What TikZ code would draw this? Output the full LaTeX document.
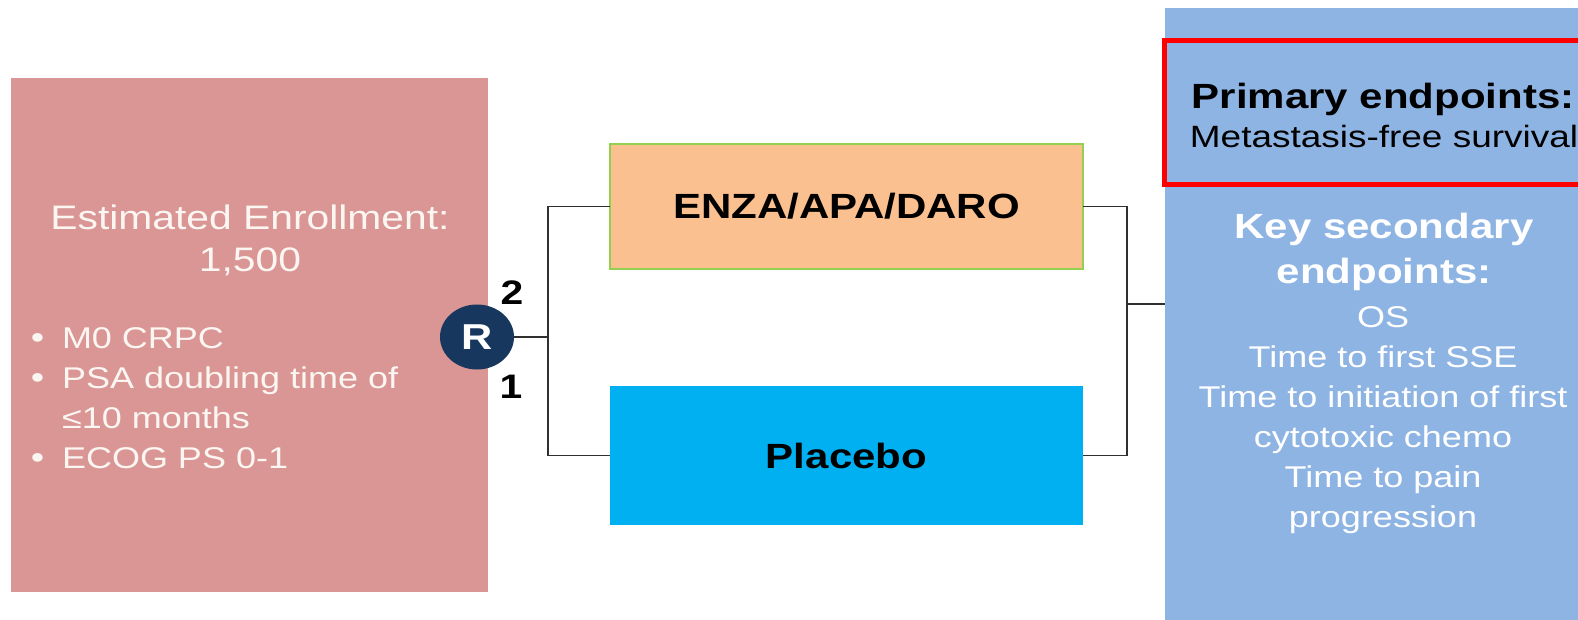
\documentclass[tikz,border=0pt]{standalone}
\usepackage{fontspec}
\setmainfont[FakeStretch=1.2]{Liberation Sans}
\usetikzlibrary{shapes.geometric}
\definecolor{pinkbox}{HTML}{D99694}
\definecolor{peach}{HTML}{FAC090}
\definecolor{cyanbox}{HTML}{00B0F0}
\definecolor{bluebox}{HTML}{8EB4E3}
\definecolor{navy}{HTML}{17375E}
\definecolor{lgreen}{HTML}{92D050}
\definecolor{linec}{HTML}{303030}
\definecolor{offwhite}{HTML}{FBF6F2}
\newcommand{\bulletmark}{\makebox[32pt][l]{\hspace*{1pt}\fontsize{32}{40}\selectfont•}}
\begin{document}
\begin{tikzpicture}[x=1pt,y=-1pt,
  panel/.style={anchor=north west,inner sep=0pt,outer sep=0pt,draw=none},
  conn/.style={draw=linec,line width=1.4pt},
  txt/.style={inner sep=0pt,outer sep=0pt,align=center},
  armtext/.style={font=\fontsize{35}{40}\selectfont\bfseries,text=black}]
\useasboundingbox (0,0) rectangle (1578,620);
\clip (0,0) rectangle (1578,620);
% panels
\node[panel,fill=pinkbox,minimum width=477pt,minimum height=514pt] (left) at (11,78) {};
\node[panel,fill=bluebox,minimum width=430pt,minimum height=620pt] (blue) at (1165,8) {};
\node[panel,draw=red,line width=5pt,minimum width=450pt,minimum height=144pt] (prim) at (1164.5,40.5) {};
\node[panel,fill=peach,draw=lgreen,line width=1.2pt,minimum width=473pt,minimum height=125pt,armtext] (enza) at (610,144) {ENZA/APA/DARO};
\node[panel,fill=cyanbox,minimum width=473pt,minimum height=139pt,armtext] (plac) at (610,386) {Placebo};
% randomisation
\node[ellipse,fill=navy,minimum width=74pt,minimum height=65pt,inner sep=0pt,text=white,font=\fontsize{36}{40}\selectfont\bfseries] (R) at (477,337) {R};
\node[txt,font=\fontsize{34}{40}\selectfont\bfseries] (two) at (512,293) {2};
\node[txt,font=\fontsize{34}{40}\selectfont\bfseries] (one) at (511,387) {1};
% connectors
\coordinate (split) at (548,337);
\coordinate (join) at (1127,304);
\draw[conn] (R.east) -- (split);
\draw[conn] (split) |- (enza.west);
\draw[conn] (split) |- (plac.west);
\draw[conn] (enza.east) -| (join);
\draw[conn] (plac.east) -| (join);
\draw[conn] (join) -- (join -| blue.west);
% left texts
\node[txt,anchor=north,text=offwhite,font=\fontsize{34}{42}\selectfont] (enroll) at (250,205) {Estimated Enrollment:\\1,500};
\node[txt,anchor=north west,text=offwhite,font=\fontsize{30}{40}\selectfont] (crit) at (30,320)
 {\begin{tabular}{@{}l@{}l@{}}
  \bulletmark & M0 CRPC\\
  \bulletmark & PSA doubling time of\\
   & ≤10 months\\
  \bulletmark & ECOG PS 0-1
 \end{tabular}};
% right texts
\node[txt,anchor=north,font=\fontsize{35}{40}\selectfont\bfseries] (primt) at (1383,83) {Primary endpoints:};
\node[txt,anchor=base,font=\fontsize{30.8}{40}\selectfont] (primv) at (1384,148) {Metastasis-free survival};
\node[txt,anchor=north,text=white,font=\fontsize{35}{45}\selectfont\bfseries] (sect) at (1384,213) {Key secondary\\endpoints:};
\node[txt,anchor=north,text=white,font=\fontsize{30}{40}\selectfont] (secv) at (1383,306.5)
 {OS\\Time to first SSE\\Time to initiation of first\\cytotoxic chemo\\Time to pain\\progression};
\end{tikzpicture}
\end{document}
